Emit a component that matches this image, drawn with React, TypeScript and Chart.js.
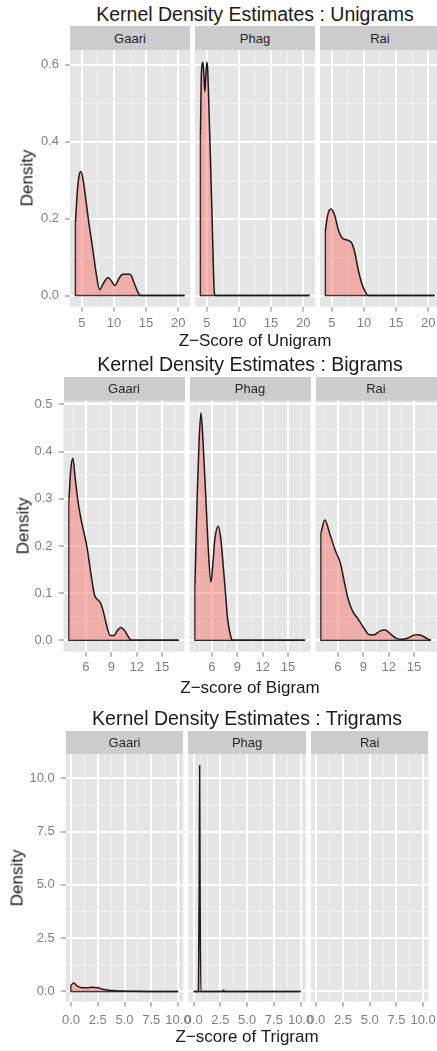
import React, { useEffect, useRef } from 'react';
import { Chart, registerables } from 'chart.js';
Chart.register(...registerables);

const FONT = "'Liberation Sans', Arial, Helvetica, sans-serif";
Chart.defaults.font.family = FONT;

// ---------- labels ----------
const facetNames = ['Gaari', 'Phag', 'Rai'];
const rowTitles = [
  'Kernel Density Estimates : Unigrams',
  'Kernel Density Estimates : Bigrams',
  'Kernel Density Estimates : Trigrams',
];
const xTitles = ['Z\u2212Score of Unigram', 'Z\u2212score of Bigram', 'Z\u2212score of Trigram'];
const yTitle = 'Density';

// ---------- Unigram data ----------
const uniGaariX = [4.0, 4.25, 4.55, 4.85, 5.15, 5.5, 6.0, 6.7, 7.3, 7.75, 8.3, 9.1, 9.6, 10.15, 10.8, 11.4, 12.5, 13.2, 13.7, 14.1, 21.0];
const uniGaariY = [0.19, 0.26, 0.31, 0.322, 0.305, 0.265, 0.2, 0.12, 0.05, 0.015, 0.03, 0.047, 0.038, 0.026, 0.045, 0.055, 0.055, 0.03, 0.01, 0.0, 0.0];
const uniPhagX = [4.0, 4.12, 4.25, 4.38, 4.53, 4.69, 4.85, 5.0, 5.12, 5.3, 5.55, 5.8, 6.0, 6.15, 6.3, 21.0];
const uniPhagY = [0.42, 0.56, 0.6, 0.606, 0.575, 0.53, 0.575, 0.606, 0.59, 0.5, 0.36, 0.21, 0.08, 0.01, 0.0, 0.0];
const uniRaiX = [4.0, 4.3, 4.6, 4.9, 5.2, 5.5, 6.0, 6.4, 6.8, 7.2, 7.6, 8.1, 8.6, 9.1, 9.65, 10.2, 10.6, 21.0];
const uniRaiY = [0.17, 0.205, 0.222, 0.225, 0.218, 0.205, 0.171, 0.155, 0.147, 0.145, 0.143, 0.136, 0.11, 0.067, 0.032, 0.01, 0.0, 0.0];

// ---------- Bigram data ----------
const biGaariX = [4.0, 4.2, 4.45, 4.75, 5.1, 5.5, 6.1, 6.6, 7.0, 7.4, 7.7, 8.0, 8.4, 8.86, 9.3, 9.7, 10.1, 10.6, 11.2, 11.5, 17.0];
const biGaariY = [0.3, 0.36, 0.386, 0.34, 0.29, 0.25, 0.2, 0.14, 0.097, 0.086, 0.08, 0.065, 0.035, 0.01, 0.01, 0.02, 0.027, 0.02, 0.002, 0.0, 0.0];
const biPhagX = [4.0, 4.25, 4.5, 4.71, 4.95, 5.29, 5.55, 5.88, 6.1, 6.35, 6.75, 7.05, 7.35, 7.6, 7.85, 8.24, 8.45, 17.0];
const biPhagY = [0.12, 0.3, 0.43, 0.482, 0.42, 0.298, 0.2, 0.123, 0.16, 0.215, 0.242, 0.215, 0.155, 0.1, 0.046, 0.007, 0.0, 0.0];
const biRaiX = [4.0, 4.45, 5.1, 5.7, 6.3, 6.8, 7.2, 7.7, 8.4, 9.1, 9.7, 10.3, 11.0, 11.6, 12.3, 12.9, 13.6, 14.3, 15.0, 15.5, 16.1, 16.6, 17.0];
const biRaiY = [0.228, 0.255, 0.222, 0.19, 0.163, 0.12, 0.088, 0.063, 0.045, 0.025, 0.012, 0.012, 0.02, 0.022, 0.012, 0.004, 0.002, 0.005, 0.011, 0.012, 0.008, 0.003, 0.0];

// ---------- Trigram data ----------
const triGaariX = [0.0, 0.25, 0.6, 1.0, 1.5, 2.0, 2.5, 3.0, 3.5, 4.2, 5.0, 6.0, 7.0, 10.0];
const triGaariY = [0.3, 0.4, 0.25, 0.18, 0.17, 0.2, 0.17, 0.1, 0.06, 0.03, 0.015, 0.005, 0.0, 0.0];
const triPhagX = [0.0, 0.45, 0.52, 0.56, 0.6, 0.67, 2.7, 2.8, 2.9, 10.0];
const triPhagY = [0.0, 0.0, 5.0, 10.6, 5.0, 0.0, 0.0, 0.06, 0.0, 0.0];
const triRaiX: number[] = [];
const triRaiY: number[] = [];

// ---------- axes ----------
const uniXRange = [3.15, 21.85];
const uniYRange = [-0.029, 0.638];
const uniXMajor = [5, 10, 15, 20];
const uniXLabels = ['5', '10', '15', '20'];
const uniXMinor = [7.5, 12.5, 17.5];
const uniYMajor = [0, 0.2, 0.4, 0.6];
const uniYLabels = ['0.0', '0.2', '0.4', '0.6'];
const uniYMinor = [0.1, 0.3, 0.5];

const biXRange = [3.35, 17.65];
const biYRange = [-0.0242, 0.508];
const biXMajor = [6, 9, 12, 15];
const biXLabels = ['6', '9', '12', '15'];
const biXMinor = [4.5, 7.5, 10.5, 13.5, 16.5];
const biYMajor = [0, 0.1, 0.2, 0.3, 0.4, 0.5];
const biYLabels = ['0.0', '0.1', '0.2', '0.3', '0.4', '0.5'];
const biYMinor = [0.05, 0.15, 0.25, 0.35, 0.45];

const triXRange = [-0.5, 10.5];
const triYRange = [-0.48, 11.14];
const triXMajor = [0, 2.5, 5, 7.5, 10];
const triXLabels = ['0.0', '2.5', '5.0', '7.5', '10.0'];
const triXMinor = [1.25, 3.75, 6.25, 8.75];
const triYMajor = [0, 2.5, 5, 7.5, 10];
const triYLabels = ['0.0', '2.5', '5.0', '7.5', '10.0'];
const triYMinor = [1.25, 3.75, 6.25, 8.75];

const rows = [
  {
    xs: [uniGaariX, uniPhagX, uniRaiX], ys: [uniGaariY, uniPhagY, uniRaiY],
    xRange: uniXRange, yRange: uniYRange,
    xMajor: uniXMajor, xLabels: uniXLabels, xMinor: uniXMinor,
    yMajor: uniYMajor, yLabels: uniYLabels, yMinor: uniYMinor,
  },
  {
    xs: [biGaariX, biPhagX, biRaiX], ys: [biGaariY, biPhagY, biRaiY],
    xRange: biXRange, yRange: biYRange,
    xMajor: biXMajor, xLabels: biXLabels, xMinor: biXMinor,
    yMajor: biYMajor, yLabels: biYLabels, yMinor: biYMinor,
  },
  {
    xs: [triGaariX, triPhagX, triRaiX], ys: [triGaariY, triPhagY, triRaiY],
    xRange: triXRange, yRange: triYRange,
    xMajor: triXMajor, xLabels: triXLabels, xMinor: triXMinor,
    yMajor: triYMajor, yLabels: triYLabels, yMinor: triYMinor,
  },
];

// ---------- layout (pixels) ----------
const layouts = [
  { titleCY: 14.2, stripTop: 26, top: 50, bottom: 306.7, lefts: [70, 195, 320], width: 120, xLabelPad: 4, xTitleCY: 340.8, yTitleCX: 27 },
  { titleCY: 365, stripTop: 376.7, top: 400.7, bottom: 651.7, lefts: [63.5, 189.5, 315.5], width: 121, xLabelPad: 3, xTitleCY: 687, yTitleCX: 22.5 },
  { titleCY: 718.3, stripTop: 730.7, top: 754, bottom: 1001.7, lefts: [65.7, 188.3, 310.9], width: 117.6, xLabelPad: 6, xTitleCY: 1036.7, yTitleCX: 16.7 },
];

const PANEL_BG = '#E5E5E5';
const STRIP_BG = '#CCCCCC';
const TICK_TEXT = '#7F7F7F';
const FILL = 'rgba(248,118,109,0.5)';
const LINE = '#1a1a1a';
const LINE_W = 1.5;
const TITLE_FS = 19.5;
const AXIS_TITLE_FS = 17;
const TICK_FS = 13;
const STRIP_FS = 13;

const near = (a: number, list: number[]) => list.some((v) => Math.abs(v - a) < 1e-6);

const panelBg = {
  id: 'panelBg',
  beforeDraw(chart: any) {
    const { ctx, chartArea: a } = chart;
    ctx.save();
    ctx.fillStyle = PANEL_BG;
    ctx.fillRect(a.left, a.top, a.right - a.left, a.bottom - a.top);
    ctx.restore();
  },
};

function FacetChart({ r, i }: { r: number; i: number }) {
  const ref = useRef<HTMLCanvasElement>(null);
  const row = rows[r];
  const L = layouts[r];
  const first = i === 0;
  const panelH = L.bottom - L.top;
  const left = first ? 0 : Math.floor(L.lefts[i] - 14);
  const padL = first ? 0 : L.lefts[i] - left;
  const yW = first ? L.lefts[0] : 0;
  const top = Math.floor(L.top - 10);
  const padT = L.top - top;
  const canvasW = Math.ceil(padL + yW + L.width + 14);
  const padR = canvasW - padL - yW - L.width;
  const canvasH = Math.ceil(padT + panelH + 32);
  const xAxisH = canvasH - padT - panelH;

  useEffect(() => {
    const xs = row.xs[i];
    const ys = row.ys[i];
    const datasets: any[] = [];
    if (xs.length) {
      datasets.push({
        data: xs.map((x, k) => ({ x, y: ys[k] })),
        fill: 'origin',
        backgroundColor: FILL,
        borderColor: LINE,
        borderWidth: LINE_W,
        cubicInterpolationMode: 'monotone',
        pointRadius: 0,
      });
      datasets.push({
        data: [
          { x: xs[0], y: ys[0] },
          { x: xs[0], y: 0 },
          { x: xs[xs.length - 1], y: 0 },
        ],
        fill: false,
        borderColor: LINE,
        borderWidth: LINE_W,
        tension: 0,
        pointRadius: 0,
      });
    }
    const xTicks = [...row.xMajor, ...row.xMinor].sort((a, b) => a - b);
    const yTicks = [...row.yMajor, ...row.yMinor].sort((a, b) => a - b);
    const chart = new Chart(ref.current as HTMLCanvasElement, {
      type: 'line',
      data: { datasets },
      plugins: [panelBg],
      options: {
        responsive: false,
        animation: false,
        devicePixelRatio: 1,
        layout: { padding: { left: padL, right: padR, top: padT, bottom: 0 } },
        plugins: { legend: { display: false }, tooltip: { enabled: false }, title: { display: false } },
        elements: { point: { radius: 0 } },
        scales: {
          x: {
            type: 'linear',
            min: row.xRange[0],
            max: row.xRange[1],
            afterBuildTicks: (s: any) => {
              s.ticks = xTicks.map((v) => ({ value: v }));
            },
            afterFit: (s: any) => {
              s.height = xAxisH;
              s.paddingLeft = 0;
              s.paddingRight = 0;
            },
            ticks: {
              autoSkip: false,
              maxRotation: 0,
              minRotation: 0,
              padding: L.xLabelPad,
              color: TICK_TEXT,
              font: { size: TICK_FS, family: FONT },
              callback: (v: any) => {
                const k = row.xMajor.findIndex((m) => Math.abs(m - v) < 1e-6);
                return k >= 0 ? row.xLabels[k] : '';
              },
            },
            grid: {
              color: (c: any) => (c.tick && near(c.tick.value, row.xMajor) ? '#FFFFFF' : '#F2F2F2'),
              lineWidth: (c: any) => (c.tick && near(c.tick.value, row.xMajor) ? 2 : 1),
              drawTicks: true,
              tickLength: 5,
              tickWidth: 1,
              tickColor: (c: any) => (c.tick && near(c.tick.value, row.xMajor) ? TICK_TEXT : 'rgba(0,0,0,0)'),
            },
            border: { display: false },
          },
          y: {
            type: 'linear',
            min: row.yRange[0],
            max: row.yRange[1],
            afterBuildTicks: (s: any) => {
              s.ticks = yTicks.map((v) => ({ value: v }));
            },
            afterFit: (s: any) => {
              s.width = yW;
              s.paddingTop = 0;
              s.paddingBottom = 0;
            },
            ticks: {
              display: first,
              autoSkip: false,
              padding: 6,
              color: TICK_TEXT,
              font: { size: TICK_FS, family: FONT },
              callback: (v: any) => {
                const k = row.yMajor.findIndex((m) => Math.abs(m - v) < 1e-6);
                return k >= 0 ? row.yLabels[k] : '';
              },
            },
            grid: {
              color: (c: any) => (c.tick && near(c.tick.value, row.yMajor) ? '#FFFFFF' : '#F2F2F2'),
              lineWidth: (c: any) => (c.tick && near(c.tick.value, row.yMajor) ? 2 : 1),
              drawTicks: first,
              tickLength: 5,
              tickWidth: 1,
              tickColor: (c: any) => (c.tick && near(c.tick.value, row.yMajor) ? TICK_TEXT : 'rgba(0,0,0,0)'),
            },
            border: { display: false },
          },
        },
      } as any,
    });
    return () => chart.destroy();
  }, []);

  return (
    <canvas
      ref={ref}
      width={canvasW}
      height={canvasH}
      style={{ position: 'absolute', left, top, width: canvasW, height: canvasH }}
    />
  );
}

function RowBlock({ r }: { r: number }) {
  const L = layouts[r];
  const spanL = L.lefts[0];
  const spanR = L.lefts[2] + L.width;
  const text = (fs: number): React.CSSProperties => ({
    position: 'absolute',
    fontFamily: FONT,
    fontSize: fs,
    lineHeight: `${fs}px`,
    whiteSpace: 'nowrap',
  });
  return (
    <>
      <div style={{ ...text(TITLE_FS), left: spanL, width: spanR - spanL, top: L.titleCY - 0.49 * TITLE_FS, textAlign: 'center', color: '#1a1a1a' }}>
        {rowTitles[r]}
      </div>
      {facetNames.map((name, i) => (
        <div
          key={name}
          style={{
            position: 'absolute',
            left: L.lefts[i],
            top: L.stripTop,
            width: L.width,
            height: L.top - L.stripTop,
            background: STRIP_BG,
            display: 'flex',
            alignItems: 'center',
            justifyContent: 'center',
            fontFamily: FONT,
            fontSize: STRIP_FS,
            lineHeight: 1,
            color: '#262626',
          }}
        >
          {name}
        </div>
      ))}
      {facetNames.map((_, i) => (
        <FacetChart key={i} r={r} i={i} />
      ))}
      <div style={{ ...text(AXIS_TITLE_FS), left: spanL, width: spanR - spanL, top: L.xTitleCY - 0.49 * AXIS_TITLE_FS, textAlign: 'center', color: '#1a1a1a' }}>
        {xTitles[r]}
      </div>
      <div
        style={{
          ...text(AXIS_TITLE_FS),
          left: L.yTitleCX,
          top: (L.top + L.bottom) / 2,
          transform: 'translate(-50%, -50%) rotate(-90deg)',
          color: '#1a1a1a',
        }}
      >
        {yTitle}
      </div>
    </>
  );
}

export default function App() {
  return (
    <div
      style={{
        position: 'absolute',
        left: 0,
        top: 0,
        width: 437,
        height: 1051,
        overflow: 'hidden',
        background: '#FFFFFF',
      }}
    >
      {[0, 1, 2].map((r) => (
        <RowBlock key={r} r={r} />
      ))}
    </div>
  );
}
